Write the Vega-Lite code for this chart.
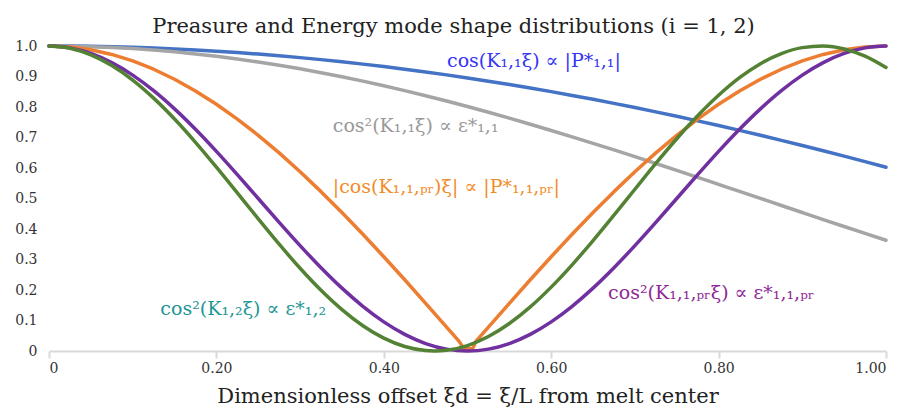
{
  "$schema": "https://vega.github.io/schema/vega-lite/v6.json",
  "width": 837,
  "height": 305,
  "autosize": {"type": "none"},
  "padding": {"left": 49, "top": 46, "right": 19, "bottom": 60},
  "background": "white",
  "title": {
    "text": "Preasure and Energy mode shape distributions (i = 1, 2)",
    "font": "DejaVu Serif",
    "fontSize": 21,
    "fontWeight": "normal",
    "color": "#222222",
    "anchor": "middle",
    "dx": -14,
    "offset": 2
  },
  "config": {
    "view": {"stroke": null}
  },
  "datasets": {
    "curves": [
      {"x": 0, "cos": 1, "cos2": 1, "abs": 1, "pr2": 1, "k12": 1},
      {"x": 0.025, "cos": 0.9997, "cos2": 0.9995, "abs": 0.9969, "pr2": 0.9938, "k12": 0.9928},
      {"x": 0.05, "cos": 0.9989, "cos2": 0.9979, "abs": 0.9877, "pr2": 0.9755, "k12": 0.9712},
      {"x": 0.075, "cos": 0.9976, "cos2": 0.9952, "abs": 0.9724, "pr2": 0.9455, "k12": 0.936},
      {"x": 0.1, "cos": 0.9957, "cos2": 0.9915, "abs": 0.9511, "pr2": 0.9045, "k12": 0.8882},
      {"x": 0.125, "cos": 0.9933, "cos2": 0.9867, "abs": 0.9239, "pr2": 0.8536, "k12": 0.829},
      {"x": 0.15, "cos": 0.9904, "cos2": 0.9809, "abs": 0.891, "pr2": 0.7939, "k12": 0.7604},
      {"x": 0.175, "cos": 0.987, "cos2": 0.9741, "abs": 0.8526, "pr2": 0.727, "k12": 0.6842},
      {"x": 0.2, "cos": 0.983, "cos2": 0.9663, "abs": 0.809, "pr2": 0.6545, "k12": 0.6027},
      {"x": 0.225, "cos": 0.9785, "cos2": 0.9574, "abs": 0.7604, "pr2": 0.5782, "k12": 0.5183},
      {"x": 0.25, "cos": 0.9735, "cos2": 0.9476, "abs": 0.7071, "pr2": 0.5, "k12": 0.4334},
      {"x": 0.275, "cos": 0.9679, "cos2": 0.9369, "abs": 0.6495, "pr2": 0.4218, "k12": 0.3501},
      {"x": 0.3, "cos": 0.9619, "cos2": 0.9252, "abs": 0.5878, "pr2": 0.3455, "k12": 0.2713},
      {"x": 0.325, "cos": 0.9553, "cos2": 0.9126, "abs": 0.5225, "pr2": 0.273, "k12": 0.1991},
      {"x": 0.35, "cos": 0.9482, "cos2": 0.8991, "abs": 0.454, "pr2": 0.2061, "k12": 0.1357},
      {"x": 0.375, "cos": 0.9406, "cos2": 0.8848, "abs": 0.3827, "pr2": 0.1465, "k12": 0.0829},
      {"x": 0.4, "cos": 0.9325, "cos2": 0.8696, "abs": 0.309, "pr2": 0.0955, "k12": 0.0422},
      {"x": 0.425, "cos": 0.9239, "cos2": 0.8537, "abs": 0.2335, "pr2": 0.0545, "k12": 0.0147},
      {"x": 0.45, "cos": 0.9149, "cos2": 0.837, "abs": 0.1564, "pr2": 0.0245, "k12": 0.0013},
      {"x": 0.4606, "k12": 0},
      {"x": 0.475, "cos": 0.9053, "cos2": 0.8196, "abs": 0.0785, "pr2": 0.0062, "k12": 0.0024},
      {"x": 0.49, "abs": 0.0314},
      {"x": 0.496, "abs": 0.007},
      {"x": 0.5, "cos": 0.8952, "cos2": 0.8015, "pr2": 0, "k12": 0.0179},
      {"x": 0.506, "abs": 0.007},
      {"x": 0.51, "abs": 0.0314},
      {"x": 0.525, "cos": 0.8847, "cos2": 0.7827, "abs": 0.0785, "pr2": 0.0062, "k12": 0.0474},
      {"x": 0.55, "cos": 0.8737, "cos2": 0.7634, "abs": 0.1564, "pr2": 0.0245, "k12": 0.09},
      {"x": 0.575, "cos": 0.8623, "cos2": 0.7435, "abs": 0.2335, "pr2": 0.0545, "k12": 0.1445},
      {"x": 0.6, "cos": 0.8504, "cos2": 0.7231, "abs": 0.309, "pr2": 0.0955, "k12": 0.2094},
      {"x": 0.625, "cos": 0.838, "cos2": 0.7022, "abs": 0.3827, "pr2": 0.1465, "k12": 0.2826},
      {"x": 0.65, "cos": 0.8252, "cos2": 0.6809, "abs": 0.454, "pr2": 0.2061, "k12": 0.3621},
      {"x": 0.675, "cos": 0.8119, "cos2": 0.6592, "abs": 0.5225, "pr2": 0.273, "k12": 0.4455},
      {"x": 0.7, "cos": 0.7982, "cos2": 0.6371, "abs": 0.5878, "pr2": 0.3455, "k12": 0.5304},
      {"x": 0.725, "cos": 0.7841, "cos2": 0.6148, "abs": 0.6495, "pr2": 0.4218, "k12": 0.615},
      {"x": 0.75, "cos": 0.7695, "cos2": 0.5922, "abs": 0.7071, "pr2": 0.5, "k12": 0.6959},
      {"x": 0.775, "cos": 0.7546, "cos2": 0.5694, "abs": 0.7604, "pr2": 0.5782, "k12": 0.7711},
      {"x": 0.8, "cos": 0.7392, "cos2": 0.5464, "abs": 0.809, "pr2": 0.6545, "k12": 0.8383},
      {"x": 0.825, "cos": 0.7235, "cos2": 0.5234, "abs": 0.8526, "pr2": 0.727, "k12": 0.896},
      {"x": 0.85, "cos": 0.7073, "cos2": 0.5003, "abs": 0.891, "pr2": 0.7939, "k12": 0.9421},
      {"x": 0.875, "cos": 0.6907, "cos2": 0.4771, "abs": 0.9239, "pr2": 0.8536, "k12": 0.9753},
      {"x": 0.9, "cos": 0.6738, "cos2": 0.454, "abs": 0.9511, "pr2": 0.9045, "k12": 0.9947},
      {"x": 0.925, "cos": 0.6565, "cos2": 0.431, "abs": 0.9724, "pr2": 0.9455, "k12": 0.9998},
      {"x": 0.95, "cos": 0.6389, "cos2": 0.4082, "abs": 0.9877, "pr2": 0.9755, "k12": 0.9904},
      {"x": 0.975, "cos": 0.6209, "cos2": 0.3855, "abs": 0.9969, "pr2": 0.9938, "k12": 0.9668},
      {"x": 1, "cos": 0.6025, "cos2": 0.363, "abs": 1, "pr2": 1, "k12": 0.9296}
    ],
    "labels": [
      {"x": 0.4755, "value": 0.95, "key": "cos", "label": "cos(K₁,₁ξ) ∝ |P*₁,₁|"},
      {"x": 0.339, "value": 0.738, "key": "cos2", "label": "cos²(K₁,₁ξ) ∝ ε*₁,₁"},
      {"x": 0.339, "value": 0.538, "key": "abs", "label": "|cos(K₁,₁,ₚᵣ)ξ| ∝ |P*₁,₁,ₚᵣ|"},
      {"x": 0.668, "value": 0.19, "key": "pr2", "label": "cos²(K₁,₁,ₚᵣξ) ∝ ε*₁,₁,ₚᵣ"},
      {"x": 0.133, "value": 0.138, "key": "k12", "label": "cos²(K₁,₂ξ) ∝ ε*₁,₂"}
    ]
  },
  "encoding": {
    "x": {
      "field": "x", "type": "quantitative",
      "scale": {"domain": [0, 1], "nice": false},
      "axis": {
        "values": [0, 0.2, 0.4, 0.6, 0.8, 1],
        "labelExpr": "datum.value == 0 ? '0' : format(datum.value, '.2f')",
        "grid": false,
        "domainColor": "#D9D9D9", "domainWidth": 2,
        "tickColor": "#D9D9D9", "tickWidth": 2, "tickSize": 7,
        "labelFont": "DejaVu Serif", "labelFontSize": 14, "labelColor": "#333333", "labelPadding": 3,
        "labelOverlap": false,
        "title": "Dimensionless offset ξd = ξ/L from melt center",
        "titleFont": "DejaVu Serif", "titleFontSize": 21, "titleFontWeight": "normal", "titleColor": "#222222",
        "titlePadding": 10
      }
    },
    "y": {
      "field": "value", "type": "quantitative",
      "scale": {"domain": [0, 1], "nice": false},
      "axis": {
        "values": [0, 0.1, 0.2, 0.3, 0.4, 0.5, 0.6, 0.7, 0.8, 0.9, 1],
        "labelExpr": "datum.value == 0 ? '0' : format(datum.value, '.1f')",
        "grid": false, "domain": false, "ticks": false,
        "labelOverlap": false,
        "labelFont": "DejaVu Serif", "labelFontSize": 14, "labelColor": "#333333", "labelPadding": 12,
        "title": null
      }
    }
  },
  "layer": [
    {
      "data": {"name": "curves"},
      "transform": [
        {"fold": ["cos", "cos2"], "as": ["key", "value"]},
        {"filter": "isValid(datum.value)"}
      ],
      "mark": {"type": "line", "strokeWidth": 3.5, "interpolate": "monotone", "strokeCap": "round", "strokeJoin": "round"},
      "encoding": {
        "color": {
          "field": "key", "type": "nominal",
          "scale": {"domain": ["cos", "cos2", "abs", "pr2", "k12"], "range": ["#4472C4", "#A5A5A5", "#ED7D31", "#7030A0", "#548235"]},
          "legend": null
        }
      }
    },
    {
      "data": {"name": "curves"},
      "transform": [
        {"fold": ["abs"], "as": ["key", "value"]},
        {"filter": "isValid(datum.value)"}
      ],
      "mark": {"type": "line", "strokeWidth": 3.5, "interpolate": "linear", "strokeCap": "round", "strokeJoin": "round"},
      "encoding": {
        "color": {
          "field": "key", "type": "nominal",
          "scale": {"domain": ["cos", "cos2", "abs", "pr2", "k12"], "range": ["#4472C4", "#A5A5A5", "#ED7D31", "#7030A0", "#548235"]},
          "legend": null
        }
      }
    },
    {
      "data": {"name": "curves"},
      "transform": [
        {"fold": ["pr2", "k12"], "as": ["key", "value"]},
        {"filter": "isValid(datum.value)"}
      ],
      "mark": {"type": "line", "strokeWidth": 3.5, "interpolate": "monotone", "strokeCap": "round", "strokeJoin": "round"},
      "encoding": {
        "color": {
          "field": "key", "type": "nominal",
          "scale": {"domain": ["cos", "cos2", "abs", "pr2", "k12"], "range": ["#4472C4", "#A5A5A5", "#ED7D31", "#7030A0", "#548235"]},
          "legend": null
        }
      }
    },
    {
      "data": {"name": "labels"},
      "mark": {"type": "text", "align": "left", "baseline": "middle", "fontSize": 19, "font": "DejaVu Serif"},
      "encoding": {
        "text": {"field": "label"},
        "color": {
          "field": "key", "type": "nominal",
          "scale": {"domain": ["cos", "cos2", "abs", "pr2", "k12"], "range": ["#3535F5", "#999999", "#F28C28", "#8E2A96", "#1E9696"]},
          "legend": null
        }
      }
    }
  ],
  "resolve": {"scale": {"color": "independent"}}
}
